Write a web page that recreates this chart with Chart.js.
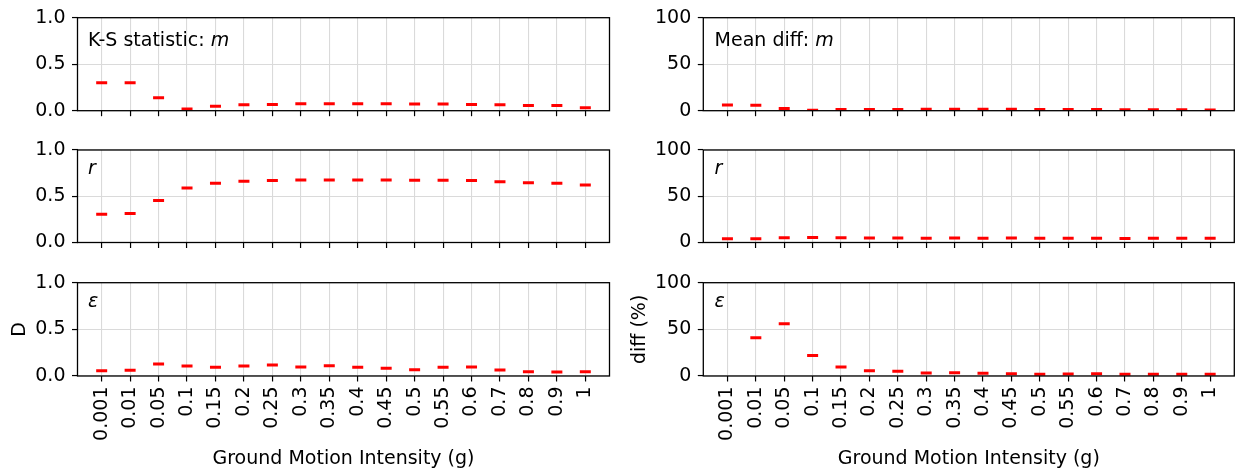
<!DOCTYPE html>
<html>
<head>
<meta charset="utf-8">
<script src="https://cdn.jsdelivr.net/npm/chart.js@4.4.1/dist/chart.umd.min.js"></script>
<style>
  body { margin: 0; background: #fff; width: 1244px; height: 475px; position: relative; overflow: hidden; }
  canvas { position: absolute; }
</style>
</head>
<body>
<canvas id="ksM" width="620" height="120" style="left:0;top:0"></canvas>
<canvas id="diffM" width="624" height="120" style="left:620px;top:0"></canvas>
<canvas id="ksR" width="620" height="121" style="left:0;top:130px"></canvas>
<canvas id="diffR" width="624" height="121" style="left:620px;top:130px"></canvas>
<canvas id="ksEps" width="620" height="213" style="left:0;top:262px"></canvas>
<canvas id="diffEps" width="624" height="213" style="left:620px;top:262px"></canvas>
<script>
var intensities = ['0.001', '0.01', '0.05', '0.1', '0.15', '0.2', '0.25', '0.3', '0.35', '0.4', '0.45', '0.5', '0.55', '0.6', '0.7', '0.8', '0.9', '1']

// K-S statistic D per parameter
var ksM = [0.30, 0.30, 0.14, 0.018, 0.047, 0.065, 0.068, 0.075, 0.076, 0.075, 0.075, 0.072, 0.071, 0.068, 0.065, 0.057, 0.057, 0.032]
var ksR = [0.306, 0.313, 0.453, 0.59, 0.64, 0.662, 0.669, 0.676, 0.677, 0.676, 0.676, 0.673, 0.672, 0.669, 0.658, 0.647, 0.64, 0.622]
var ksEps = [0.057, 0.061, 0.129, 0.107, 0.093, 0.107, 0.118, 0.096, 0.111, 0.093, 0.082, 0.068, 0.093, 0.096, 0.064, 0.046, 0.043, 0.046]

// mean difference (%) per parameter
var diffM = [6.0, 5.8, 2.5, 0.5, 1.2, 1.3, 1.4, 1.5, 1.6, 1.5, 1.6, 1.4, 1.3, 1.3, 1.1, 1.0, 0.9, 0.7]
var diffR = [4.0, 4.0, 5.2, 5.4, 5.2, 5.0, 4.8, 4.7, 4.8, 4.7, 4.8, 4.6, 4.6, 4.5, 4.4, 4.5, 4.5, 4.5]
var diffEps = [null, 41, 56, 22, 9.6, 5.7, 5.0, 3.2, 3.6, 2.9, 2.5, 1.8, 2.1, 2.5, 1.8, 1.8, 1.8, 1.8]

var ksTicks = [0, 0.5, 1]
var diffTicks = [0, 50, 100]

var FONT = '"DejaVu Sans", sans-serif'
var FS = 19

// black box round the plot area, on top of the markers
var framePlugin = {
    id: 'frame',
    afterDatasetsDraw: function (chart) {
        var a = chart.chartArea
        var ctx = chart.ctx
        ctx.save()
        ctx.strokeStyle = '#000'
        ctx.lineWidth = 1.3
        ctx.strokeRect(a.left, a.top, a.right - a.left, a.bottom - a.top)
        ctx.restore()
    }
}

// panel caption in the upper left corner, parts may be italic
var labelPlugin = {
    id: 'caption',
    afterDraw: function (chart, args, opts) {
        var parts = opts.parts
        if (!parts) return
        var ctx = chart.ctx
        var a = chart.chartArea
        ctx.save()
        ctx.fillStyle = '#000'
        ctx.textBaseline = 'alphabetic'
        var ascent = 0
        parts.forEach(function (p) {
            ctx.font = (p[1] ? 'italic ' : '') + FS + 'px ' + FONT
            ascent = Math.max(ascent, ctx.measureText(p[0]).actualBoundingBoxAscent)
        })
        var x = a.left + opts.dx
        var y = a.top + 13.3 + ascent
        parts.forEach(function (p) {
            ctx.font = (p[1] ? 'italic ' : '') + FS + 'px ' + FONT
            ctx.fillText(p[0], x, y)
            x += ctx.measureText(p[0]).width
        })
        ctx.restore()
    }
}

function makePanel(id, values, yTicks, fmt, caption, box) {
    var bottomRow = !!box.yTitle
    return new Chart(document.getElementById(id), {
        type: 'scatter',
        data: {
            datasets: [{
                data: values.map(function (v, i) { return { x: i, y: v } }),
                pointStyle: 'line',
                radius: 5.5,
                hoverRadius: 5.5,
                borderColor: '#ff0000',
                backgroundColor: '#ff0000',
                borderWidth: 3
            }]
        },
        options: {
            responsive: false,
            animation: false,
            events: [],
            layout: { padding: { top: box.padTop, right: box.padRight, left: 0, bottom: 0 } },
            plugins: {
                legend: { display: false },
                tooltip: { enabled: false },
                caption: { parts: caption, dx: box.dx }
            },
            scales: {
                x: {
                    type: 'linear',
                    min: -0.85,
                    max: 17.85,
                    afterBuildTicks: function (s) {
                        s.ticks = intensities.map(function (c, i) { return { value: i } })
                    },
                    afterFit: function (s) {
                        s.height = box.xHeight
                        s.paddingLeft = 0
                        s.paddingRight = 0
                    },
                    ticks: {
                        display: bottomRow,
                        autoSkip: false,
                        minRotation: 90,
                        maxRotation: 90,
                        padding: 5,
                        color: '#000',
                        font: { family: FONT, size: FS },
                        callback: function (v) { return intensities[v] }
                    },
                    grid: { color: '#dadada', lineWidth: 1.1, tickLength: 5.5, tickColor: '#000', tickWidth: 1.2 },
                    border: { display: false },
                    title: {
                        display: bottomRow,
                        text: 'Ground Motion Intensity (g)',
                        color: '#000',
                        font: { family: FONT, size: FS },
                        padding: { top: 4, bottom: 5 }
                    }
                },
                y: {
                    min: yTicks[0],
                    max: yTicks[yTicks.length - 1],
                    afterBuildTicks: function (s) {
                        s.ticks = yTicks.map(function (v) { return { value: v } })
                    },
                    afterFit: function (s) {
                        // labels may hang over the plot edges, keep the plot box fixed
                        s.width = box.yWidth
                        s.paddingTop = 0
                        s.paddingBottom = 0
                    },
                    ticks: {
                        padding: 6.5,
                        color: '#000',
                        font: { family: FONT, size: FS },
                        callback: fmt
                    },
                    grid: { color: '#dadada', lineWidth: 1.1, tickLength: 5.5, tickColor: '#000', tickWidth: 1.2 },
                    border: { display: false },
                    title: {
                        display: bottomRow,
                        text: box.yTitle || '',
                        color: '#000',
                        font: { family: FONT, size: FS },
                        padding: { top: 8.6, bottom: 0 }
                    }
                }
            }
        },
        plugins: [framePlugin, labelPlugin]
    })
}

function fmtKs(v) { return v.toFixed(1) }
function fmtDiff(v) { return String(v) }

var left = { yWidth: 77.5, padRight: 10.5, dx: 10.5 }
var right = { yWidth: 83.3, padRight: 9.7, dx: 11.3 }
var row1 = { padTop: 17.7, xHeight: 9.3 }
var row2 = { padTop: 20, xHeight: 8 }
var row3 = { padTop: 20.7, xHeight: 99 }

function box(col, row, yTitle) {
    return Object.assign({}, col, row, { yTitle: yTitle })
}

makePanel('ksM', ksM, ksTicks, fmtKs, [['K-S statistic: ', false], ['m', true]], box(left, row1))
makePanel('diffM', diffM, diffTicks, fmtDiff, [['Mean diff: ', false], ['m', true]], box(right, row1))
makePanel('ksR', ksR, ksTicks, fmtKs, [['r', true]], box(left, row2))
makePanel('diffR', diffR, diffTicks, fmtDiff, [['r', true]], box(right, row2))
makePanel('ksEps', ksEps, ksTicks, fmtKs, [['\u03b5', true]], box(left, row3, 'D'))
makePanel('diffEps', diffEps, diffTicks, fmtDiff, [['\u03b5', true]], box(right, row3, 'diff (%)'))
</script>
</body>
</html>
